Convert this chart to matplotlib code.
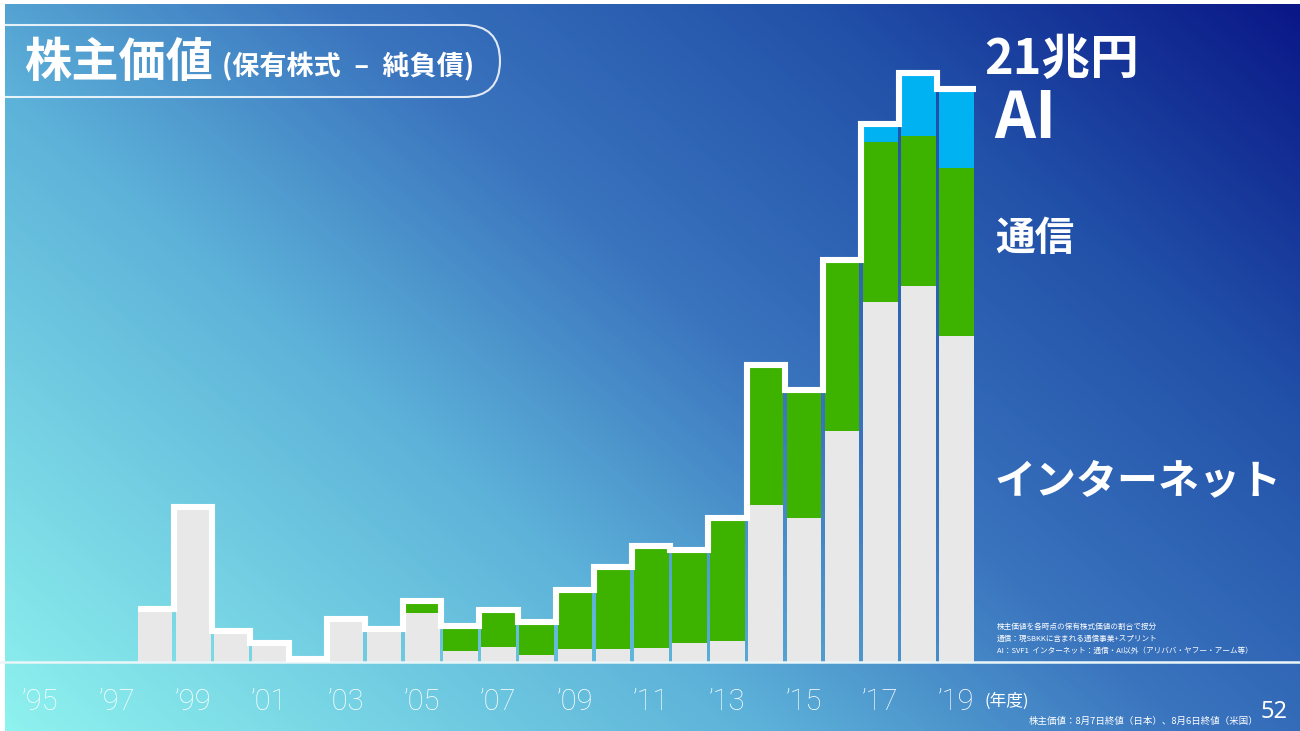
import numpy as np
import matplotlib
matplotlib.use("Agg")
import matplotlib.pyplot as plt
from matplotlib.colors import LinearSegmentedColormap
from matplotlib.patches import FancyBboxPatch

# Shareholder value by fiscal year (trillion yen), split by segment
years = list(range(1998, 2020))
internet = [1.84, 5.60, 1.03, 0.59, 0.00, 1.47, 1.10, 1.80, 0.40, 0.55, 0.26,
            0.48, 0.48, 0.52, 0.70, 0.77, 5.78, 5.30, 8.50, 13.26, 13.85, 12.00]
telecom = [0.00, 0.00, 0.00, 0.00, 0.00, 0.00, 0.00, 0.33, 0.81, 1.25, 1.10,
           2.06, 2.91, 3.65, 3.32, 4.42, 5.05, 4.60, 6.20, 5.90, 5.53, 6.20]
ai = [0.00] * 19 + [0.55, 2.21, 2.80]

tick_years = list(range(1995, 2020, 2))
tick_labels = ["\u2019%02d" % (y % 100) for y in tick_years]

JP = ["Noto Sans CJK JP", "DejaVu Sans"]
W, H = 1300, 731
fig = plt.figure(figsize=(W / 100, H / 100), dpi=100)
fig.patch.set_facecolor("white")

# diagonal gradient background
bg = fig.add_axes([0, 0, 1, 1])
bg.set_xlim(0, W)
bg.set_ylim(H, 0)
bg.axis("off")
cmap = LinearSegmentedColormap.from_list(
    "bg", [(0.0, "#8ef2ee"), (0.35, "#5db2d9"), (0.55, "#3a74be"),
           (0.78, "#2150a8"), (1.0, "#0a1887")])
gx, gy = np.meshgrid(np.linspace(0, 1, 400), np.linspace(0, 1, 240))
grad = 0.6 * gx + 0.4 * (1 - gy)
bg.imshow(grad, cmap=cmap, extent=(5, W, H, 4), aspect="auto",
          interpolation="bilinear", origin="upper", zorder=0)

# chart axes: y = 0 sits on the baseline
px_per_unit = 27.14
base_px = 69
ax = fig.add_axes([0, base_px / H, 1, 1 - base_px / H])
ax.set_facecolor("none")
step = 38.17
ax.set_xlim(1998 - 155 / step, 1998 + (W - 155) / step)
ax.set_ylim(0, (H - base_px) / px_per_unit)

inet = np.array(internet)
tel = np.array(telecom)
aiv = np.array(ai)
bw = 0.91
ax.bar(years, inet, width=bw, color="#e8e8e8", linewidth=0, zorder=2)
ax.bar(years, tel, width=bw, bottom=inet, color="#3db300", linewidth=0, zorder=2)
ax.bar(years, aiv, width=bw, bottom=inet + tel, color="#00b2f2", linewidth=0, zorder=2)

# white stepped outline along the top of the bars
totals = inet + tel + aiv
off = 3 / px_per_unit
edges = [years[0] - bw / 2] + [y + 0.5 for y in years]
levels = list(totals + off) + [totals[-1] + off]
ax.step(edges, levels, where="post", color="white", lw=4.4,
        solid_joinstyle="miter", solid_capstyle="butt", zorder=3, clip_on=False)

for s in ["top", "left", "right"]:
    ax.spines[s].set_visible(False)
ax.spines["bottom"].set_color("#eaf6f8")
ax.spines["bottom"].set_linewidth(1.8)
ax.set_yticks([])
ax.set_xticks(tick_years)
ax.set_xticklabels(tick_labels, fontsize=21, color="white", family="Roboto",
                   fontweight="light")
ax.tick_params(axis="x", length=0, pad=19)

# text overlay in pixel coordinates
ov = fig.add_axes([0, 0, 1, 1])
ov.set_facecolor("none")
ov.set_xlim(0, W)
ov.set_ylim(H, 0)
ov.axis("off")

box = FancyBboxPatch((-60, 25), 560, 72, boxstyle="round,pad=0,rounding_size=36",
                     fill=False, edgecolor="white", linewidth=1.5, alpha=0.85)
ov.add_patch(box)
ov.text(24, 63, "株主価値", family=JP, fontsize=34, fontweight="bold",
        color="white", va="center", ha="left")
ov.text(222, 67, "(保有株式\u2002–\u2002純負債)", family=JP, fontsize=19.5,
        fontweight="bold", color="white", va="center", ha="left")

ov.text(984, 59, "21兆円", family=JP, fontsize=35, fontweight="bold",
        color="white", va="center", ha="left")
ov.text(994, 119, "AI", family=JP, fontsize=46,
        fontweight="bold", color="white", va="center", ha="left")
ov.text(995, 238, "通信", family=JP, fontsize=28.5, fontweight="bold",
        color="white", va="center", ha="left")
ov.text(994, 481, "インターネット", family=JP, fontsize=29.5, fontweight="bold",
        color="white", va="center", ha="left")

notes = ["株主価値を各時点の保有株式価値の割合で按分",
         "通信：現SBKKに含まれる通信事業+スプリント",
         "AI：SVF1  インターネット：通信・AI以外（アリババ・ヤフー・アーム等）"]
for i, line in enumerate(notes):
    ov.text(997, 627 + 12 * i, line, family=JP, fontsize=5.5, color="white",
            va="center", ha="left")

ov.text(985, 701, "(年度)", family=JP, fontsize=12, color="white",
        va="center", ha="left")
ov.text(1029, 721, "株主価値：8月7日終値（日本）、8月6日終値（米国）", family=JP,
        fontsize=6.8, color="white", va="center", ha="left")
ov.text(1261, 712, "52", family=["Noto Sans", "DejaVu Sans"], fontsize=17,
        color="white", va="center", ha="left")

fig.savefig("out.png", dpi=100)
